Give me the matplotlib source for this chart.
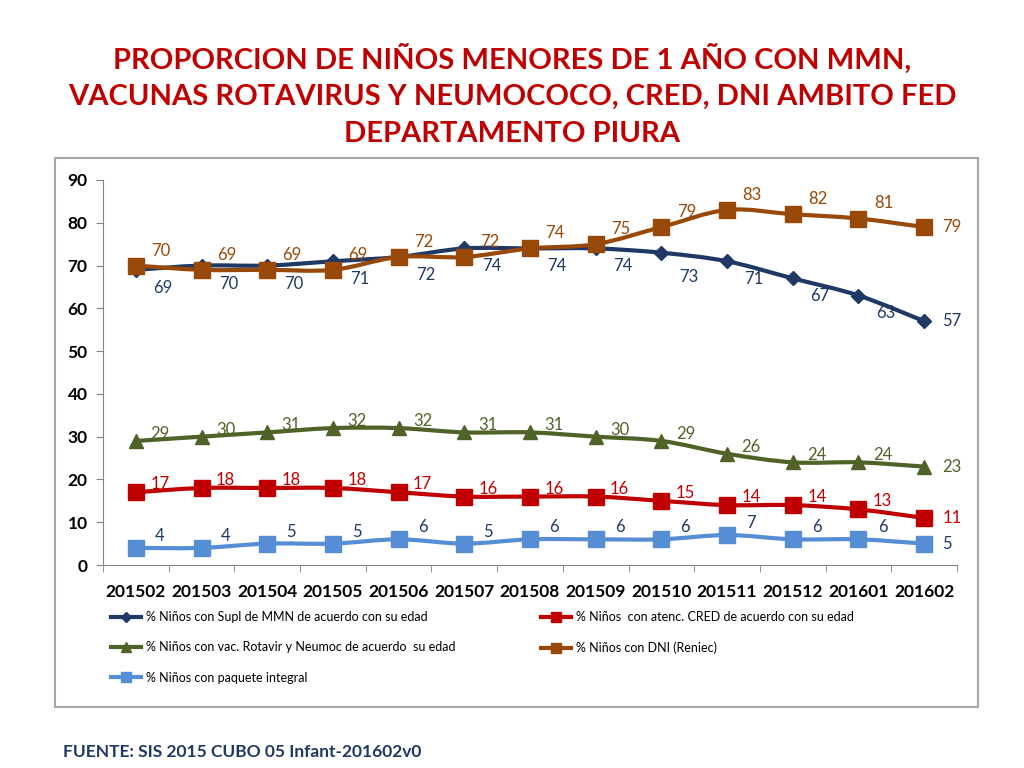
import matplotlib
matplotlib.use("Agg")
import matplotlib.pyplot as plt
from matplotlib.path import Path
from matplotlib.patches import PathPatch, Rectangle
from matplotlib.lines import Line2D
import matplotlib.transforms as mtrans

plt.rcParams['font.family'] = ['Lato', 'DejaVu Sans']

# ---- Data ----
periods = ['201502', '201503', '201504', '201505', '201506', '201507', '201508',
           '201509', '201510', '201511', '201512', '201601', '201602']
mmn = [69, 70, 70, 71, 72, 74, 74, 74, 73, 71, 67, 63, 57]
cred = [17, 18, 18, 18, 17, 16, 16, 16, 15, 14, 14, 13, 11]
rotavir = [29, 30, 31, 32, 32, 31, 31, 30, 29, 26, 24, 24, 23]
dni = [70, 69, 69, 69, 72, 72, 74, 75, 79, 83, 82, 81, 79]
paquete = [4, 4, 5, 5, 6, 5, 6, 6, 6, 7, 6, 6, 5]

labels = ['% Niños con Supl de MMN de acuerdo con su edad',
          '% Niños  con atenc. CRED de acuerdo con su edad',
          '% Niños con vac. Rotavir y Neumoc de acuerdo  su edad',
          '% Niños con DNI (Reniec)',
          '% Niños con paquete integral']

# ---- Styles ----
C_MMN, C_CRED, C_ROT, C_DNI, C_PAQ = '#1F3864', '#C00000', '#4F6228', '#984807', '#558ED5'
# values, line colour, marker, marker size, label colour, label offset (px)
series = [
    (mmn, C_MMN, 'D', 7, '#1F3864', (27, -18)),
    (cred, C_CRED, 's', 11, '#C00000', (24, 8)),
    (rotavir, C_ROT, '^', 10, '#4F6228', (24, 7)),
    (dni, C_DNI, 's', 11, '#984807', (25, 15)),
    (paquete, C_PAQ, 's', 11, '#1F3864', (24, 12)),
]
# a couple of labels sit a little lower in the original
mmn_extra_dy = {8: -6}


def smooth_path(xs, ys):
    pts = list(zip(xs, ys))
    verts = [pts[0]]
    codes = [Path.MOVETO]
    n = len(pts)
    for i in range(n - 1):
        p0 = pts[i - 1] if i > 0 else pts[i]
        p1 = pts[i]
        p2 = pts[i + 1]
        p3 = pts[i + 2] if i + 2 < n else pts[i + 1]
        c1 = (p1[0] + (p2[0] - p0[0]) / 6, p1[1] + (p2[1] - p0[1]) / 6)
        c2 = (p2[0] - (p3[0] - p1[0]) / 6, p2[1] - (p3[1] - p1[1]) / 6)
        verts += [c1, c2, p2]
        codes += [Path.CURVE4] * 3
    return Path(verts, codes)


fig = plt.figure(figsize=(10.24, 7.68), dpi=100)

# chart frame
fig.patches.append(Rectangle((55 / 1024, 1 - 707 / 768), 923 / 1024, 549 / 768,
                             transform=fig.transFigure, facecolor='white',
                             edgecolor='#A6A6A6', linewidth=1.5, zorder=-5))

ax = fig.add_axes([103 / 1024, 1 - 565 / 768, 854 / 1024, 385 / 768])
ax.set_facecolor('none')
x = list(range(len(periods)))
ax.set_xlim(-0.5, len(periods) - 0.5)
ax.set_ylim(0, 90)
ax.set_yticks(range(0, 91, 10))
ax.set_xticks(x)
ax.set_xticklabels(periods, fontsize=12.5, fontweight='bold')
ax.set_xticks([i - 0.5 for i in range(len(periods) + 1)], minor=True)
ax.tick_params(axis='x', which='major', length=0, pad=14)
ax.tick_params(axis='x', which='minor', length=5, color='#868686')
ax.tick_params(axis='y', length=5, color='#868686', labelsize=12.5, pad=6)
for t in ax.get_yticklabels():
    t.set_fontweight('bold')
for s in ['top', 'right']:
    ax.spines[s].set_visible(False)
for s in ['left', 'bottom']:
    ax.spines[s].set_color('#868686')

for vals, col, mk, ms, lcol, off in series:
    ax.add_patch(PathPatch(smooth_path(x, vals), facecolor='none', edgecolor=col,
                           linewidth=3, zorder=3, capstyle='round'))
    ax.plot(x, vals, linestyle='none', marker=mk, markersize=ms, color=col, zorder=4)

px = lambda dx, dy: mtrans.offset_copy(ax.transData, fig=fig, x=dx, y=dy, units='dots')

for vals, col, mk, ms, lcol, off in series:
    for i, v in enumerate(vals):
        if i == len(vals) - 1:
            ax.text(x[i], v, str(v), transform=px(18, 0), color=lcol, fontsize=12,
                    ha='left', va='center')
            continue
        dx, dy = off
        if vals is mmn:
            dy += mmn_extra_dy.get(i, 0)
        ax.text(x[i], v, str(v), transform=px(dx, dy), color=lcol, fontsize=12,
                ha='center', va='center')

handles = [Line2D([], [], color=c, marker=m, markersize=ms * 0.7, linewidth=3)
           for _, c, m, ms, _, _ in series]
# legend fills column by column, so reorder to get row-major layout
order = [0, 2, 4, 1, 3]
fig.legend([handles[i] for i in order], [labels[i] for i in order], ncol=2,
           loc='upper left', bbox_to_anchor=(100 / 1024, 1 - 600 / 768),
           frameon=False, fontsize=9, handlelength=2.4, handletextpad=0.4,
           columnspacing=6.8, labelspacing=1.45)

title = ('PROPORCION DE NIÑOS MENORES DE 1 AÑO CON MMN,\n'
         'VACUNAS ROTAVIRUS Y NEUMOCOCO, CRED, DNI AMBITO FED\n'
         'DEPARTAMENTO PIURA')
fig.text(0.5, 1 - 95 / 768, title, ha='center', va='center', fontsize=21,
         fontweight='bold', color='#C00000', linespacing=1.5)

fig.text(63 / 1024, 1 - 752 / 768, 'FUENTE: SIS 2015 CUBO 05 Infant-201602v0',
         ha='left', va='center', fontsize=12.5, fontweight='bold', color='#1F3864')

fig.savefig('out.png', dpi=100, facecolor='white')
